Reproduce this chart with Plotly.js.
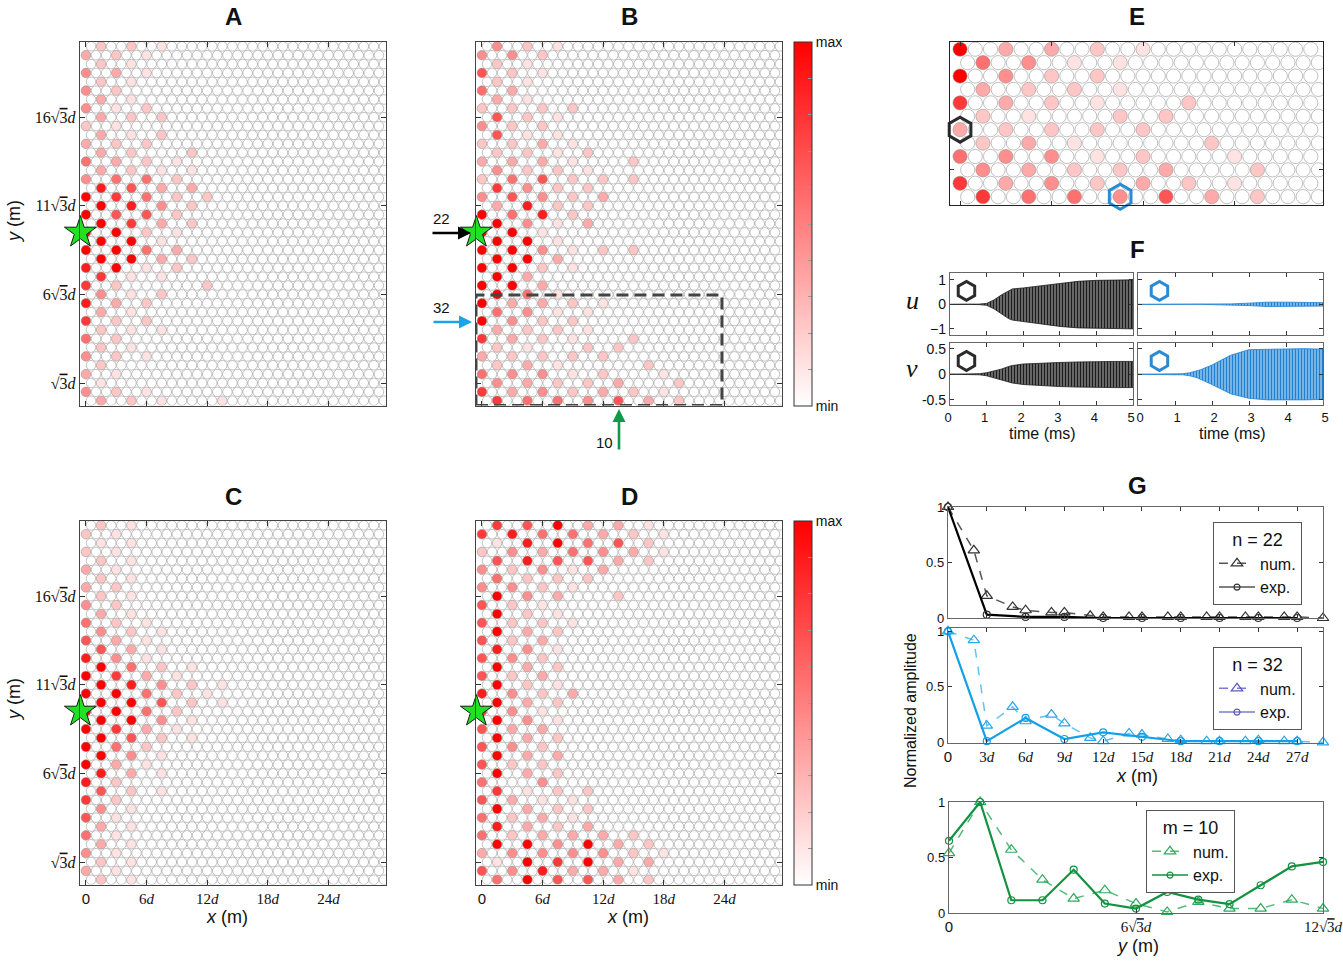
<!DOCTYPE html>
<html>
<head>
<meta charset="utf-8">
<script src="https://cdn.plot.ly/plotly-3.0.1.min.js"></script>
<style>
  html, body { margin: 0; padding: 0; background: #fff; }
  #fig { width: 1343px; height: 964px; }
</style>
</head>
<body>
<div id="fig"></div>
<script>
// ---------------------------------------------------------------------------
// Amplitude maps. One string per lattice row, top row (40) first, bottom row (0)
// last. Each digit is the amplitude level (0 = min, 9 = max) of the sites of the
// √3 × √3 sub-lattice in that row (10 sites per row); the other sites are at min.
// ---------------------------------------------------------------------------
const ampA = [
  "2210000000", "3210000000", "2100000000", "4310000000", "2100000000",
  "4200000000", "3100000000", "4120000000", "3220000000", "2100000000",
  "3120000000", "3220000000", "3202000000", "5321000000", "3211000000",
  "4552000000", "8633000000", "9752200000", "9842000000", "9662000000",
  "9732000000", "9921000000", "9910000000", "9953000000", "9932000000",
  "8912000000", "7110000000", "7200200000", "4120000000", "8320000000",
  "3100000000", "7220000000", "2110000000", "5200000000", "2100000000",
  "4210000000", "2000000000", "3100000000", "1000000000", "4210000000",
  "3210100000"
];
const ampB = [
  "4210000000", "4420000000", "2100000000", "6210000000", "2100000000",
  "5300000000", "3100000000", "2222000000", "6210000000", "4220000000",
  "6110000000", "2231000000", "2212000000", "3331020000", "4221000000",
  "2562220000", "7422000000", "4642300000", "3822000000", "9582000000",
  "9413000000", "9910000000", "9910000000", "9941220000", "9930000000",
  "9921000000", "9300000000", "9930000000", "9510000000", "9332100000",
  "5411000000", "9422000000", "3221000000", "7321020000", "2102200000",
  "3222200000", "2310020000", "5441201000", "4322302000", "7342321000",
  "7554632000"
];
const ampC = [
  "2100000000", "2100000000", "1100000000", "2100000000", "2100000000",
  "3100000000", "2100000000", "3200000000", "2100000000", "4200000000",
  "3100000000", "5210000000", "4210000000", "6310000000", "6310000000",
  "8410000000", "9521000000", "9731000000", "9842100000", "9952100000",
  "9962100000", "9952000000", "9941000000", "9731000000", "9621000000",
  "9520000000", "9410000000", "9310000000", "8310000000", "8200000000",
  "6210000000", "7200000000", "4100000000", "6100000000", "3100000000",
  "5100000000", "3100000000", "4100000000", "2100000000", "3100000000",
  "2100000000"
];
const ampD = [
  "7693310000", "7855321000", "1895620000", "2435431000", "6866320000",
  "4241300000", "5222000000", "4421000000", "9430200000", "6210000000",
  "9210000000", "6221000000", "9320000000", "6230000000", "8410000000",
  "6420000000", "9320000000", "6230000000", "9210000000", "8423000000",
  "9320000000", "7410000000", "9410000000", "6330000000", "9320000000",
  "6420000000", "9330000000", "6220000000", "9320000000", "5040000000",
  "7122000000", "6311000000", "9322000000", "5231000000", "8323000000",
  "5233320000", "9949320000", "3444421000", "1979330000", "6483310000",
  "5966320000"
];

// source position (lattice row, x in units of d) and the two probed sites
const sourceSite = { row: 19, x: -0.55 };
const probeSites = [ { row: 5, x: 0, color: "#2b2b2b" }, { row: 0, x: 10.5, color: "#2a8ad4" } ];

// ---------------------------------------------------------------------------
// F: envelopes of the recorded signals u, v at the two probed sites
// ---------------------------------------------------------------------------
const fTime       = [0, 0.5, 0.8, 1.0, 1.2, 1.4, 1.6, 1.7, 2.0, 2.5, 3.0, 3.5, 4.0, 4.5, 5.0];
const uBlackUpper = [0, 0, 0.01, 0.04, 0.18, 0.38, 0.57, 0.63, 0.67, 0.76, 0.86, 0.94, 0.98, 0.99, 1.0];
const uBlackLower = [0, 0, -0.01, -0.04, -0.18, -0.38, -0.58, -0.64, -0.69, -0.80, -0.90, -0.96, -0.98, -0.99, -1.0];
const vBlackUpper = [0, 0.005, 0.01, 0.03, 0.06, 0.10, 0.15, 0.17, 0.20, 0.22, 0.23, 0.24, 0.25, 0.25, 0.25];
const vBlackLower = [0, -0.005, -0.01, -0.03, -0.06, -0.10, -0.15, -0.17, -0.20, -0.22, -0.24, -0.25, -0.26, -0.26, -0.26];
const uBlueUpper  = [0, 0, 0, 0, 0, 0, 0, 0, 0.01, 0.02, 0.05, 0.09, 0.09, 0.08, 0.07];
const uBlueLower  = [0, 0, 0, 0, 0, 0, 0, 0, -0.01, -0.02, -0.05, -0.09, -0.09, -0.08, -0.07];
const vBlueUpper  = [0, 0.005, 0.01, 0.01, 0.01, 0.03, 0.07, 0.09, 0.18, 0.37, 0.48, 0.49, 0.50, 0.50, 0.49];
const vBlueLower  = [0, -0.005, -0.01, -0.01, -0.01, -0.03, -0.07, -0.10, -0.20, -0.38, -0.47, -0.50, -0.50, -0.50, -0.49];

// ---------------------------------------------------------------------------
// G: normalized amplitude along row n = 22, row n = 32 and column m = 10
// ---------------------------------------------------------------------------
const gXnum   = [0, 2, 3, 5, 6, 8, 9, 11, 12, 14, 15, 17, 18, 20, 21, 23, 24, 26, 27, 29];
const gXexp   = [0, 3, 6, 9, 12, 15, 18, 21, 24, 27];
const n22Num  = [1.0, 0.61, 0.20, 0.10, 0.07, 0.05, 0.05, 0.02, 0.01, 0.01, 0.01, 0.01, 0.01, 0.01, 0.01, 0.01, 0.01, 0.01, 0.01, 0.0];
const n22Exp  = [1.0, 0.03, 0.01, 0.01, 0.0, 0.0, 0.0, 0.0, 0.0, 0.0];
const n32Num  = [1.0, 0.92, 0.15, 0.32, 0.19, 0.25, 0.17, 0.04, 0.01, 0.08, 0.07, 0.03, 0.02, 0.01, 0.01, 0.01, 0.02, 0.01, 0.01, 0.0];
const n32Exp  = [1.0, 0.01, 0.22, 0.03, 0.09, 0.05, 0.01, 0.01, 0.01, 0.01];
const gYpos   = [0, 1, 2, 3, 4, 5, 6, 7, 8, 9, 10, 11, 12];   // in units of √3 d
const m10Num  = [0.54, 1.0, 0.57, 0.30, 0.13, 0.205, 0.085, 0.01, 0.10, 0.04, 0.04, 0.12, 0.04];
const m10Exp  = [0.65, 1.0, 0.115, 0.115, 0.39, 0.085, 0.04, 0.19, 0.12, 0.08, 0.25, 0.42, 0.46];

// tick labels
const ROOT3 = '√<span style="text-decoration:overline">3</span><i>d</i>';
const latXVals = [0, 6, 12, 18, 24];
const latXText = ['<span style="font-family:Liberation Sans">0</span>', '6<i>d</i>', '12<i>d</i>', '18<i>d</i>', '24<i>d</i>'];
const latYVals = [1, 6, 11, 16].map(k => k * Math.sqrt(3));
const latYText = [ROOT3, '6' + ROOT3, '11' + ROOT3, '16' + ROOT3];
const gXVals = [0, 3, 6, 9, 12, 15, 18, 21, 24, 27];
const gXText = ['<span style="font-family:Liberation Sans">0</span>'].concat(gXVals.slice(1).map(v => v + '<i>d</i>'));
const gYposVals = [0, 6, 12];
const gYposText = ['<span style="font-family:Liberation Sans">0</span>', '6' + ROOT3, '12' + ROOT3];
const fTimeTicks = [0, 1, 2, 3, 4, 5];

// ---------------------------------------------------------------------------
const W = 1343, H = 964;
const PX = v => v / W;
const PY = v => 1 - v / H;
const SANS = '"Liberation Sans", Arial, Helvetica, sans-serif';
const SERIF = '"Liberation Serif", "DejaVu Serif", serif';
const ROW_H = Math.sqrt(3) / 2;     // row pitch of the triangular lattice (units of d)
const NROW = 41, NCOL = 30;

// all sites of the triangular lattice; sub-lattice sites take their level from the map
function latticeTrace(rows, xa, ya, size, cax) {
  const x = [], y = [], c = [];
  for (let r = 0; r < NROW; r++) {
    const s = rows[NROW - 1 - r];
    const shift = (r % 2 === 0) ? 1 : 0;
    for (let i = 0; i < NCOL; i++) {
      const k = i - shift;
      x.push(i + shift * 0.5);
      y.push(r * ROW_H);
      c.push(k >= 0 && k % 3 === 0 ? Number(s[k / 3]) : 0);
    }
  }
  return {
    type: 'scatter', mode: 'markers', x, y, xaxis: xa, yaxis: ya,
    hoverinfo: 'skip', showlegend: false,
    marker: { size, color: c, coloraxis: cax, line: { color: '#8e8e8e', width: 0.55 } }
  };
}
function starTrace(xa, ya) {
  return {
    type: 'scatter', mode: 'markers', x: [sourceSite.x], y: [sourceSite.row * ROW_H],
    xaxis: xa, yaxis: ya, cliponaxis: false, hoverinfo: 'skip', showlegend: false,
    marker: { symbol: 'star', size: 24, color: '#22e022', line: { color: '#1a1a1a', width: 1 } }
  };
}
function envelopeTrace(t, up, lo, xa, ya, fg, bg) {
  return {
    type: 'scatter', mode: 'lines', xaxis: xa, yaxis: ya,
    x: t.concat(t.slice().reverse()), y: up.concat(lo.slice().reverse()),
    fill: 'toself', fillcolor: bg,
    fillpattern: { shape: '|', fgcolor: fg, bgcolor: bg, size: 3, solidity: 0.55 },
    line: { color: fg, width: 0.8 }, hoverinfo: 'skip', showlegend: false
  };
}
function iconTrace(x, y, xa, ya, color) {
  return {
    type: 'scatter', mode: 'markers', x: [x], y: [y], xaxis: xa, yaxis: ya,
    hoverinfo: 'skip', showlegend: false, cliponaxis: false,
    marker: { symbol: 'hexagon-open', size: 19, color, line: { width: 3, color } }
  };
}
function lineTrace(x, y, xa, ya, color, dash, width, symbol, msize, mcolor) {
  return {
    type: 'scatter', mode: 'lines+markers', x, y, xaxis: xa, yaxis: ya,
    cliponaxis: false, hoverinfo: 'skip', showlegend: false,
    line: { color, dash, width },
    marker: { symbol, size: msize, color: mcolor, line: { color: mcolor, width: 1.2 } }
  };
}
function legendEntry(name, legend, xa, ya, color, dash, symbol, msize, mcolor) {
  return {
    type: 'scatter', mode: 'lines+markers', x: [null], y: [null], xaxis: xa, yaxis: ya,
    name, legend, showlegend: true, hoverinfo: 'skip',
    line: { color, dash, width: 1.5 },
    marker: { symbol, size: msize, color: mcolor, line: { color: mcolor, width: 1.2 } }
  };
}

const traces = [];
// A–D
traces.push(latticeTrace(ampA, 'x', 'y', 9.6, 'coloraxis'));
traces.push(latticeTrace(ampB, 'x2', 'y2', 9.6, 'coloraxis'));
traces.push(latticeTrace(ampC, 'x3', 'y3', 9.6, 'coloraxis2'));
traces.push(latticeTrace(ampD, 'x4', 'y4', 9.6, 'coloraxis2'));
traces.push(starTrace('x', 'y'), starTrace('x2', 'y2'), starTrace('x3', 'y3'), starTrace('x4', 'y4'));
// E: enlarged lower-left part of B with the probed sites
traces.push(latticeTrace(ampB, 'x5', 'y5', 14.2, 'coloraxis'));
probeSites.forEach(p => traces.push({
  type: 'scatter', mode: 'markers', x: [p.x], y: [p.row * ROW_H], xaxis: 'x5', yaxis: 'y5',
  cliponaxis: false, hoverinfo: 'skip', showlegend: false,
  marker: { symbol: 'hexagon-open', size: 25, color: p.color, line: { width: 3, color: p.color } }
}));
// F
traces.push(envelopeTrace(fTime, uBlackUpper, uBlackLower, 'x6', 'y6', '#1c1c1c', '#8a8a8a'));
traces.push(envelopeTrace(fTime, uBlueUpper, uBlueLower, 'x7', 'y7', '#1f7fd0', '#9fcdf0'));
traces.push(envelopeTrace(fTime, vBlackUpper, vBlackLower, 'x8', 'y8', '#1c1c1c', '#8a8a8a'));
traces.push(envelopeTrace(fTime, vBlueUpper, vBlueLower, 'x9', 'y9', '#1f7fd0', '#9fcdf0'));
traces.push(iconTrace(0.45, 0.55, 'x6', 'y6', probeSites[0].color));
traces.push(iconTrace(0.58, 0.55, 'x7', 'y7', probeSites[1].color));
traces.push(iconTrace(0.45, 0.26, 'x8', 'y8', probeSites[0].color));
traces.push(iconTrace(0.58, 0.26, 'x9', 'y9', probeSites[1].color));
// G
traces.push(lineTrace(gXnum, n22Num, 'x10', 'y10', '#555555', 'dash', 1.5, 'triangle-up-open', 10, '#333333'));
traces.push(lineTrace(gXexp, n22Exp, 'x10', 'y10', '#000000', 'solid', 2.2, 'circle-open', 7, '#333333'));
traces.push(lineTrace(gXnum, n32Num, 'x11', 'y11', '#62c3f0', 'dash', 1.5, 'triangle-up-open', 10, '#2aa6e6'));
traces.push(lineTrace(gXexp, n32Exp, 'x11', 'y11', '#14a0e8', 'solid', 2.2, 'circle-open', 7, '#14a0e8'));
traces.push(lineTrace(gYpos, m10Num, 'x12', 'y12', '#55bb7c', 'dash', 1.5, 'triangle-up-open', 10, '#2eaa5c'));
traces.push(lineTrace(gYpos, m10Exp, 'x12', 'y12', '#12923f', 'solid', 2.2, 'circle-open', 7, '#12923f'));
traces.push(legendEntry('num.', 'legend', 'x10', 'y10', '#555555', 'dash', 'triangle-up-open', 10, '#333333'));
traces.push(legendEntry('exp.', 'legend', 'x10', 'y10', '#555555', 'solid', 'circle-open', 6, '#333333'));
traces.push(legendEntry('num.', 'legend2', 'x11', 'y11', '#7c7cd2', 'dash', 'triangle-up-open', 10, '#5a5ac4'));
traces.push(legendEntry('exp.', 'legend2', 'x11', 'y11', '#7c7cd2', 'solid', 'circle-open', 6, '#5a5ac4'));
traces.push(legendEntry('num.', 'legend3', 'x12', 'y12', '#55bb7c', 'dash', 'triangle-up-open', 10, '#2eaa5c'));
traces.push(legendEntry('exp.', 'legend3', 'x12', 'y12', '#12923f', 'solid', 'circle-open', 6, '#12923f'));

// ---------------------------------------------------------------------------
const layout = {
  width: W, height: H, margin: { l: 0, r: 0, t: 0, b: 0 },
  paper_bgcolor: '#fff', plot_bgcolor: '#fff',
  font: { family: SANS, size: 13, color: '#111' },
  showlegend: true,
  annotations: [], shapes: []
};

function axisBase(extra) {
  return Object.assign({
    showgrid: false, zeroline: false, showline: true, mirror: 'ticks',
    linecolor: '#444', linewidth: 1.2, ticks: 'inside', ticklen: 4, tickwidth: 1,
    tickcolor: '#333', fixedrange: true
  }, extra);
}
function setAxes(n, box, xr, yr, xopt, yopt) {
  const sx = n === 1 ? '' : String(n);
  layout['xaxis' + sx] = axisBase(Object.assign({
    domain: [PX(box[0]), PX(box[2])], range: xr, anchor: 'y' + sx
  }, xopt));
  layout['yaxis' + sx] = axisBase(Object.assign({
    domain: [PY(box[3]), PY(box[1])], range: yr, anchor: 'x' + sx
  }, yopt));
}

// lattice panels: box = [left, top, right, bottom] in pixels
const latXR = [-0.59, 29.7];
const latYR = [-0.54 * ROW_H, 40.49 * ROW_H];
const latX = (show) => ({ tickvals: latXVals, ticktext: latXText, showticklabels: show,
  tickfont: { family: SERIF, size: 15, color: '#111' }, ticklen: 5 });
const latY = (show) => ({ tickvals: latYVals, ticktext: latYText, showticklabels: show,
  tickfont: { family: SERIF, size: 16, color: '#111' }, ticklen: 5 });
setAxes(1, [80, 42, 386, 405.5], latXR, latYR, latX(false), latY(true));
setAxes(2, [476, 42, 782, 405.5], latXR, latYR, latX(false), latY(false));
setAxes(3, [80, 521, 386, 884.5], latXR, latYR, latX(true), latY(true));
setAxes(4, [476, 521, 782, 884.5], latXR, latYR, latX(true), latY(false));
setAxes(5, [950, 42, 1323, 205], [-0.66, 23.8], [-0.62 * ROW_H, 11.54 * ROW_H],
  { tickvals: latXVals, showticklabels: false, linecolor: '#222' },
  { tickvals: latYVals, showticklabels: false, linecolor: '#222' });

// F panels (the bottom time labels of the two columns are nudged apart at the shared edge)
const fTickFont = { family: SANS, size: 13, color: '#111' };
const fx = (show, shift) => ({ tickvals: fTimeTicks, showticklabels: show, ticklabelshift: shift,
  tickfont: fTickFont, linecolor: '#666' });
setAxes(6, [950, 273, 1133, 335], [0, 5], [-1.25, 1.28], fx(false, 0),
  { tickvals: [-1, 0, 1], tickfont: { family: SANS, size: 14, color: '#111' }, linecolor: '#666' });
setAxes(7, [1138, 273, 1323, 335], [0, 5], [-1.25, 1.28], fx(false, 0),
  { tickvals: [-1, 0, 1], showticklabels: false, linecolor: '#666' });
setAxes(8, [950, 343, 1133, 405], [0, 5], [-0.6, 0.61], fx(true, -2),
  { tickvals: [-0.5, 0, 0.5], ticktext: ['-0.5', '0', '0.5'], tickfont: { family: SANS, size: 14, color: '#111' }, linecolor: '#666' });
setAxes(9, [1138, 343, 1323, 405], [0, 5], [-0.6, 0.61], fx(true, 2),
  { tickvals: [-0.5, 0, 0.5], showticklabels: false, linecolor: '#666' });

// G panels
const gTickFont = { family: SANS, size: 13, color: '#111' };
const gSerif = { family: SERIF, size: 15, color: '#111' };
const gY = { tickvals: [0, 0.5, 1], ticktext: ['0', '0.5', '1'], tickfont: gTickFont, linecolor: '#666' };
setAxes(10, [948, 507, 1323, 618], [0, 29], [0, 1],
  { tickvals: gXVals, showticklabels: false, linecolor: '#666' }, gY);
setAxes(11, [948, 628, 1323, 743], [0, 29], [-0.006, 1.03],
  { tickvals: gXVals, ticktext: gXText, tickfont: gSerif, linecolor: '#666' }, gY);
setAxes(12, [949, 802, 1323, 913], [0, 12], [0, 1],
  { tickvals: gYposVals, ticktext: gYposText, tickfont: gSerif, linecolor: '#666' }, gY);

// colour bars (A/B/E share one scale, C/D the other)
const cbTicks = [0, 0.9, 1.8, 2.7, 3.6, 4.5, 5.4, 6.3, 7.2, 8.1, 9];
const cbText = ['min', '', '', '', '', '', '', '', '', '', 'max'];
function colorAxis(topPx) {
  return {
    cmin: 0, cmax: 9, colorscale: [[0, '#ffffff'], [1, '#ff0000']], showscale: true,
    colorbar: {
      x: PX(794), xanchor: 'left', xpad: 0, y: PY(topPx + 364), yanchor: 'bottom', ypad: 0,
      len: 364 / H, lenmode: 'fraction', thickness: 18, thicknessmode: 'pixels',
      outlinewidth: 1, outlinecolor: '#333', borderwidth: 0,
      tickvals: cbTicks, ticktext: cbText, ticks: 'inside', ticklen: 4, tickcolor: '#999',
      tickfont: { family: SANS, size: 14, color: '#111' }
    }
  };
}
layout.coloraxis = colorAxis(42);
layout.coloraxis2 = colorAxis(521);

// legends of G
function legendBox(xPx, yPx, title) {
  return {
    x: PX(xPx), y: PY(yPx), xanchor: 'left', yanchor: 'top', xref: 'paper', yref: 'paper',
    bgcolor: '#fff', bordercolor: '#555', borderwidth: 1,
    font: { family: SANS, size: 16, color: '#111' }, itemwidth: 36, tracegroupgap: 0,
    title: { text: title, side: 'top center', font: { family: SANS, size: 18, color: '#111' } }
  };
}
layout.legend = legendBox(1213, 522, 'n = 22');
layout.legend2 = legendBox(1213, 647, 'n = 32');
layout.legend3 = legendBox(1146, 810, 'm = 10');

// dashed frame of the region shown in E
layout.shapes.push({
  type: 'rect', xref: 'x2', yref: 'y2', x0: -0.59, x1: 23.76, y0: -0.54 * ROW_H, y1: 11.93 * ROW_H,
  line: { color: '#444', width: 3, dash: '12px,6px' }, fillcolor: 'rgba(0,0,0,0)'
});

// text
function txt(x, y, text, size, opts) {
  layout.annotations.push(Object.assign({
    xref: 'paper', yref: 'paper', x: PX(x), y: PY(y), text, showarrow: false,
    xanchor: 'center', yanchor: 'middle', font: { family: SANS, size, color: '#111' }
  }, opts || {}));
}
[['A', 233, 16], ['B', 629, 16], ['C', 233, 497], ['D', 629, 497],
 ['E', 1137, 16], ['F', 1137, 250], ['G', 1137, 485]].forEach(([t, x, y]) => txt(x, y, '<b>' + t + '</b>', 24));
txt(227, 917, '<i>x</i> (m)', 18);
txt(628, 917, '<i>x</i> (m)', 18);
txt(14, 222, '<i>y</i> (m)', 18, { textangle: -90 });
txt(14, 700, '<i>y</i> (m)', 18, { textangle: -90 });
txt(1137, 776, '<i>x</i> (m)', 18);
txt(1137, 946, '<i>y</i> (m)', 18);
txt(910, 710, 'Normalized amplitude', 16, { textangle: -90 });
txt(1042, 434, 'time (ms)', 16);
txt(1232, 434, 'time (ms)', 16);
txt(912, 300, '<i>u</i>', 26, { font: { family: SERIF, size: 26, color: '#111' } });
txt(912, 368, '<i>v</i>', 26, { font: { family: SERIF, size: 26, color: '#111' } });
txt(441, 219, '22', 15);
txt(441, 307, '32', 15);
txt(604, 443, '10', 15);

// arrows pointing at the selected row / column in B
function arrow(x, y, ax, ay, color) {
  layout.annotations.push({
    xref: 'paper', yref: 'paper', x: PX(x), y: PY(y), ax, ay, text: '', showarrow: true,
    arrowhead: 2, arrowsize: 1, arrowwidth: 2.6, arrowcolor: color
  });
}
arrow(471, 233, -40, 0, '#000000');
arrow(472, 322, -40, 0, '#1aa3ea');
arrow(619, 409, 0, 42, '#0f9a4a');

Plotly.newPlot('fig', traces, layout, { displayModeBar: false, staticPlot: true });
</script>
</body>
</html>
